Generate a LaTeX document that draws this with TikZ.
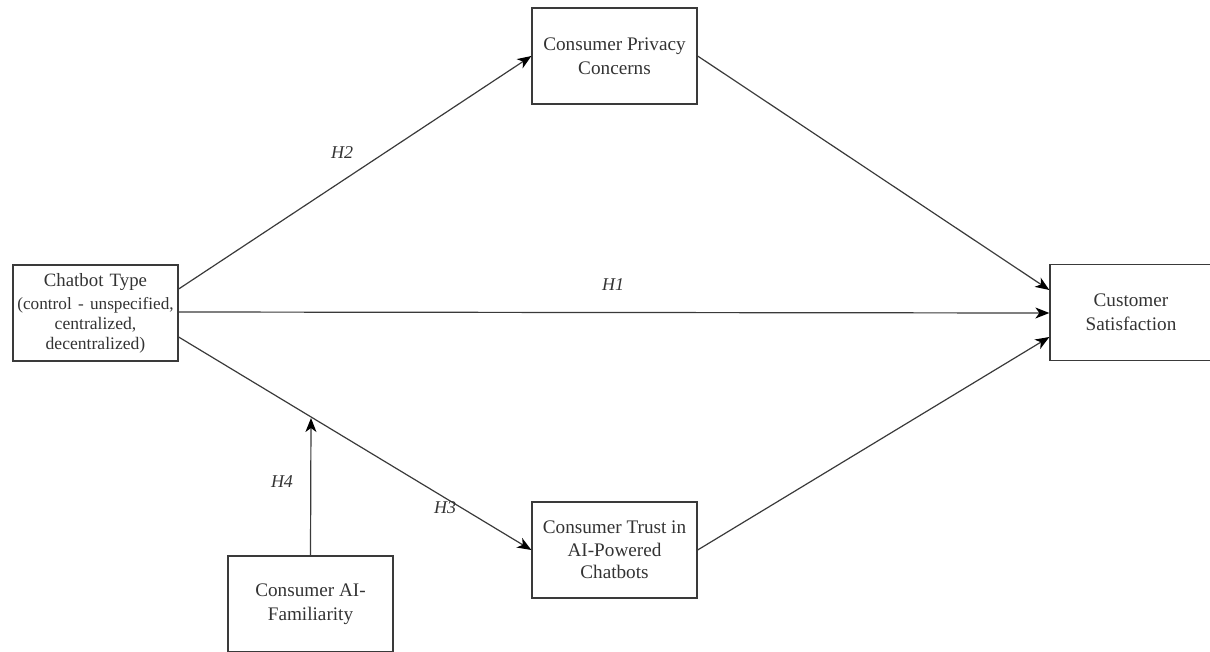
\documentclass[tikz,border=0pt]{standalone}
\usepackage{fontspec}
\setmainfont{Liberation Serif}
\usetikzlibrary{arrows.meta,calc}
\definecolor{linec}{HTML}{3A3A3A}
\definecolor{textc}{HTML}{333333}
\begin{document}
\begin{tikzpicture}[x=1pt,y=-1pt,
  box/.style={draw=linec,line width=1.3pt,minimum width=165pt,minimum height=96pt,inner sep=0pt,align=center,text=textc,font=\fontsize{19.2}{24}\selectfont},
  conn/.style={draw=linec,line width=1.2pt,-{Stealth[length=14pt,width=11pt,inset=4pt,color=black]}},
  hyp/.style={text=textc,font=\fontsize{18}{20}\selectfont\itshape,inner sep=0pt}]
\useasboundingbox (0,0) rectangle (1210,651);
\node[box,font=\fontsize{18.8}{20}\selectfont,text width=165pt] (chat) at (95.5,313) {Chatbot Type\\[3pt]{\fontsize{17.2}{20}\selectfont (control - unspecified,}\\{\fontsize{17.6}{20}\selectfont centralized,}\\{\fontsize{17.6}{19}\selectfont decentralized)}};
\node[box] (priv) at (614.5,56) {Consumer Privacy\\Concerns};
\node[box,minimum width=162pt] (cs) at (1131,312.5) {Customer\\Satisfaction};
\node[box,font=\fontsize{19.2}{22.5}\selectfont] (trust) at (614.5,550) {Consumer Trust in\\AI-Powered\\Chatbots};
\node[box] (fam) at (310.5,604) {Consumer AI-\\Familiarity};
\coordinate (h4end) at (311,418);
\draw[conn] ([yshift=24pt]chat.east) -- (priv.west);
\draw[conn] ([yshift=1pt]chat.east) -- ([yshift=-0.5pt]cs.west);
\draw[conn] ([yshift=-24pt]chat.east) -- (trust.west);
\draw[conn] (priv.east) -- ([yshift=22.5pt]cs.west);
\draw[conn] (trust.east) -- ([yshift=-24.5pt]cs.west);
\draw[conn] (fam.north) -- (h4end);
\node[hyp] (h2) at (342,153) {H2};
\node[hyp] (h1) at (613,285) {H1};
\node[hyp] (h3) at (445,508) {H3};
\node[hyp] (h4) at (282,482) {H4};
\end{tikzpicture}
\end{document}
